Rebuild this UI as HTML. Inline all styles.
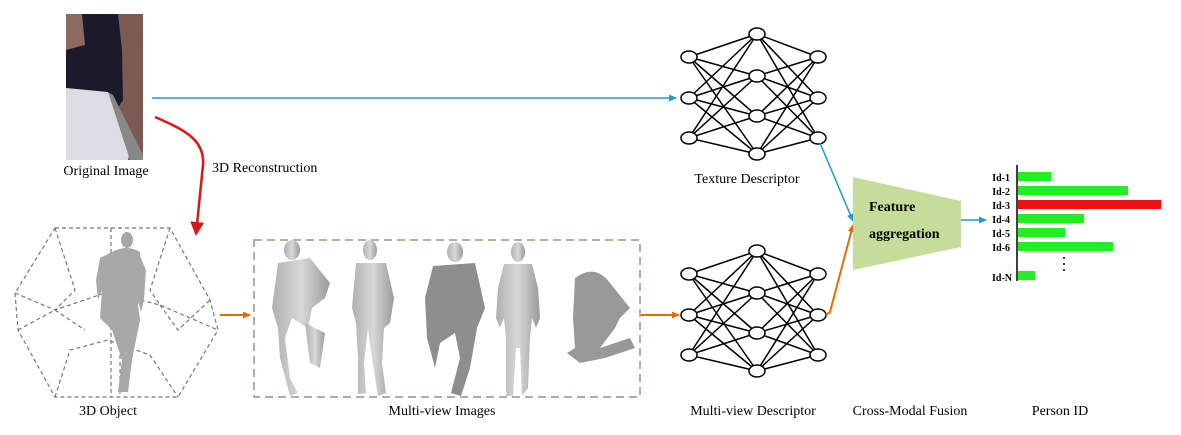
<!DOCTYPE html>
<html><head><meta charset="utf-8"><style>
body{margin:0;background:#fff;width:1181px;height:430px;overflow:hidden}
svg text{font-family:"Liberation Serif",serif}
</style></head><body>
<svg id="s" width="1181" height="430" viewBox="0 0 1181 430" xmlns="http://www.w3.org/2000/svg">
<defs>
<marker id="ab" markerWidth="8" markerHeight="8" refX="7" refY="4" orient="auto" markerUnits="userSpaceOnUse"><path d="M0,0.5 L8,4 L0,7.5z" fill="#1a9ad8"/></marker>
<marker id="ao" markerWidth="8" markerHeight="8" refX="7" refY="4" orient="auto" markerUnits="userSpaceOnUse"><path d="M0,0.5 L8,4 L0,7.5z" fill="#e36c0a"/></marker>
<marker id="ar" markerWidth="14" markerHeight="14" refX="12" refY="7" orient="auto" markerUnits="userSpaceOnUse"><path d="M0,0 L14,7 L0,14z" fill="#d81818"/></marker>
<linearGradient id="gp" x1="0" y1="0" x2="1" y2="0"><stop offset="0" stop-color="#b0b0b0"/><stop offset=".5" stop-color="#d8d8d8"/><stop offset="1" stop-color="#9a9a9a"/></linearGradient>
</defs>
<!-- original image -->
<rect x="66" y="14" width="77" height="146" fill="#7a5a52"/>
<rect x="66" y="14" width="20" height="60" fill="#8b6b60"/>
<path d="M82,14 L118,14 L122,50 L123,100 L110,120 L66,95 L66,50 L85,45z" fill="#1c1a2a"/>
<path d="M66,88 L108,92 L130,150 L128,160 L66,160z" fill="#dcdce4"/>
<path d="M108,92 L113,95 L143,155 L143,160 L130,160z" fill="#888"/>
<text x="106" y="175" font-size="14" text-anchor="middle">Original Image</text>
<!-- blue top arrow -->
<line x1="152" y1="98" x2="676" y2="98" stroke="#1a9ad8" stroke-width="1.5" marker-end="url(#ab)"/>
<!-- red curve -->
<path d="M155,117 C185,130 205,140 203,165 L196,234" fill="none" stroke="#d81818" stroke-width="2.5" marker-end="url(#ar)"/>
<text x="212" y="172" font-size="14">3D Reconstruction</text>
<!-- polyhedron -->
<g fill="none" stroke="#777" stroke-width="1.2" stroke-dasharray="4,3">
<polygon points="55,228 170,228 210,300 218,330 178,397 55,397 18,330 15,293"/>
<polyline points="15,293 55,310 108,292 160,305 218,330"/>
<polyline points="18,330 55,310"/><polyline points="55,310 85,330"/><polyline points="160,305 178,330 210,300"/>
<polyline points="55,228 75,290 55,310"/><polyline points="170,228 150,290 160,305"/>
<polyline points="55,397 70,350 108,340 150,355 178,397"/>
<line x1="111" y1="228" x2="111" y2="397"/><line x1="120" y1="320" x2="120" y2="395"/>
</g>
<!-- human in 3D object -->
<g fill="#a8a8a8">
<ellipse cx="127" cy="240" rx="6" ry="8"/>
<path d="M112,252 Q127,244 140,252 L142,290 L138,305 L140,320 L132,360 L128,392 L118,392 L122,360 L112,330 L100,318 L102,290 L98,300 L96,280 L100,258z"/>
<path d="M140,256 L146,270 L144,300 L141,312 L138,300z"/>
</g>
<text x="108" y="415" font-size="14" text-anchor="middle">3D Object</text>
<line x1="220" y1="315" x2="250" y2="315" stroke="#e36c0a" stroke-width="2" marker-end="url(#ao)"/>
<!-- multi-view box -->
<rect x="254" y="240" width="386" height="157" fill="none" stroke="#b8aa9c" stroke-width="2" stroke-dasharray="8,5"/>
<g fill="url(#gp)">
<g transform="translate(300,318)"><ellipse cx="-8" cy="-68" rx="8" ry="10"/><path d="M-22,-55 L10,-60 L30,-35 L25,-20 L12,-10 L8,10 L-8,0 L-15,20 L-10,60 L-2,75 L-10,78 L-20,40 L-22,10 L-28,-10z"/><path d="M5,5 L25,15 L20,50 L10,45z"/></g>
<g transform="translate(372,318)"><ellipse cx="-2" cy="-68" rx="7" ry="10"/><path d="M-16,-55 L14,-55 L22,-20 L18,5 L12,10 L10,45 L14,75 L6,78 L0,40 L-4,10 L-8,45 L-6,75 L-14,76 L-14,40 L-16,5 L-20,-10z"/></g>
<g transform="translate(455,318)"><ellipse cx="0" cy="-66" rx="8" ry="10"/><path d="M-22,-52 L20,-55 L30,-10 L22,10 L15,50 L6,78 L-4,75 L5,40 L0,15 L-15,25 L-20,50 L-28,20 L-30,-20z" fill="#8e8e8e"/></g>
<g transform="translate(518,318)"><ellipse cx="0" cy="-66" rx="7" ry="10"/><path d="M-14,-54 L14,-54 L20,-30 L22,0 L18,10 L14,0 L12,20 L10,70 L4,78 L2,30 L-2,30 L-5,78 L-12,78 L-12,20 L-14,0 L-18,10 L-22,0 L-20,-30z"/></g>
<g transform="translate(595,318)"><path d="M-20,-40 Q0,-55 15,-35 L35,-10 L25,0 L20,10 L5,30 L35,20 L40,30 L10,40 L-15,45 L-28,35 L-20,30 L-22,0z" fill="#999"/></g>
</g>
<text x="442" y="415" font-size="14" text-anchor="middle">Multi-view Images</text>
<line x1="641" y1="315" x2="679" y2="315" stroke="#e36c0a" stroke-width="2" marker-end="url(#ao)"/>
<g id="nets"></g>
<text x="747" y="183" font-size="14" text-anchor="middle">Texture Descriptor</text>
<text x="753" y="415" font-size="14" text-anchor="middle">Multi-view Descriptor</text>
<!-- connectors to fusion -->
<line x1="820" y1="143" x2="853" y2="221" stroke="#1a9ad8" stroke-width="1.5" marker-end="url(#ab)"/>
<polyline points="826,315 830,312 853,225" fill="none" stroke="#e36c0a" stroke-width="2" marker-end="url(#ao)"/>
<polygon points="853,177 961,201 961,247 853,270" fill="#c6dc9a"/>
<text x="869" y="211" font-size="14" font-weight="bold">Feature</text>
<text x="869" y="238" font-size="14" font-weight="bold">aggregation</text>
<text x="910" y="415" font-size="14" text-anchor="middle">Cross-Modal Fusion</text>
<line x1="961" y1="220" x2="986" y2="220" stroke="#1a9ad8" stroke-width="1.5" marker-end="url(#ab)"/>
<!-- bars -->
<line x1="1017" y1="165" x2="1017" y2="281" stroke="#000" stroke-width="1.5"/>
<g fill="#22ee22">
<rect x="1018" y="172" width="33" height="9"/><rect x="1018" y="186" width="110" height="9"/>
<rect x="1018" y="214" width="66" height="9"/><rect x="1018" y="228" width="47" height="9"/>
<rect x="1018" y="242" width="95" height="9"/><rect x="1018" y="271" width="17" height="9"/>
</g>
<rect x="1018" y="200" width="143" height="9" fill="#ee1111"/>
<g font-size="10" font-weight="bold" text-anchor="end">
<text x="1010" y="181">Id-1</text><text x="1010" y="195">Id-2</text><text x="1010" y="209">Id-3</text>
<text x="1010" y="223">Id-4</text><text x="1010" y="237">Id-5</text><text x="1010" y="251">Id-6</text>
<text x="1012" y="281">Id-N</text>
</g>
<g fill="#000"><circle cx="1064" cy="258" r="1"/><circle cx="1064" cy="264" r="1"/><circle cx="1064" cy="270" r="1"/></g>
<text x="1060" y="415" font-size="14" text-anchor="middle">Person ID</text>
</svg>
<script>
var g=document.getElementById('nets'),ns='http://www.w3.org/2000/svg',h='';
function net(dy){var L=[57,98,138].map(y=>[689,y+dy]),M=[34,76,116,154].map(y=>[757,y+dy]),R=[57,98,138].map(y=>[818,y+dy]);
L.forEach(a=>M.forEach(b=>h+='<line x1="'+a[0]+'" y1="'+a[1]+'" x2="'+b[0]+'" y2="'+b[1]+'" stroke="#000" stroke-width="1.5"/>'));
M.forEach(a=>R.forEach(b=>h+='<line x1="'+a[0]+'" y1="'+a[1]+'" x2="'+b[0]+'" y2="'+b[1]+'" stroke="#000" stroke-width="1.5"/>'));
L.concat(M,R).forEach(p=>h+='<ellipse cx="'+p[0]+'" cy="'+p[1]+'" rx="8" ry="6" fill="#fff" stroke="#000" stroke-width="1.5"/>');}
net(0);net(217);
g.innerHTML=h;
</script>
</body></html>
